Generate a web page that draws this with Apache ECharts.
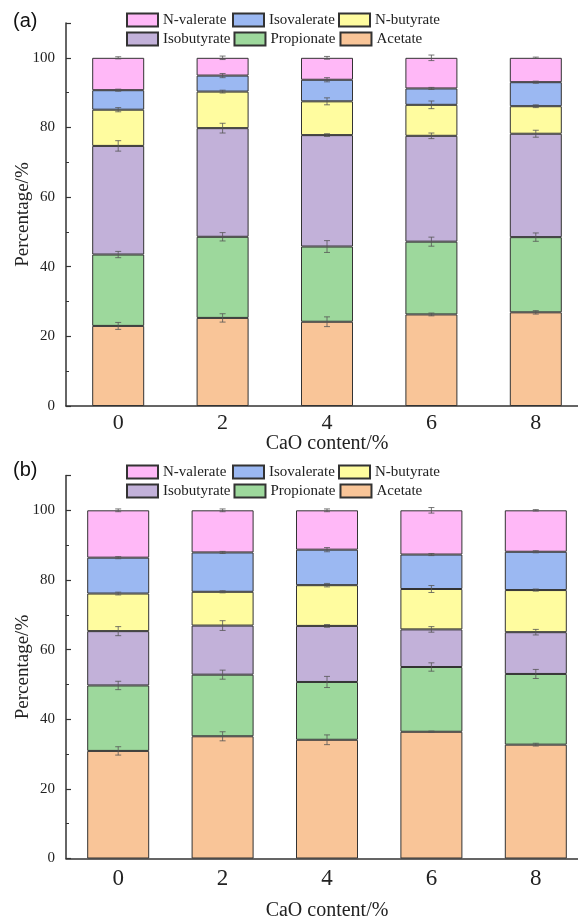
<!DOCTYPE html>
<html>
<head>
<meta charset="UTF-8">
<title>VFA composition</title>
<script src="https://cdn.jsdelivr.net/npm/echarts@6/dist/echarts.min.js"></script>
<style>html,body{margin:0;padding:0;background:#fff;}</style>
</head>
<body>
<div id="main" style="width:578px;height:921px"></div>
<script type="text/javascript">
// x categories (CaO content, %)
var categories = ['0', '2', '4', '6', '8'];
var names = ['Acetate', 'Propionate', 'Isobutyrate', 'N-butyrate', 'Isovalerate', 'N-valerate'];
var legendOrder = ['N-valerate', 'Isovalerate', 'N-butyrate', 'Isobutyrate', 'Propionate', 'Acetate'];
var colors = ['#f9c598', '#9dd89c', '#c2b1d9', '#fffc9f', '#9bb8f2', '#ffb8f7'];

// panel (a) segment shares, %
var acetateA     = [23.0, 25.3, 24.2, 26.3, 26.9];
var propionateA  = [20.5, 23.3, 21.6, 20.9, 21.6];
var isobutyrateA = [31.2, 31.2, 32.0, 30.4, 29.7];
var nbutyrateA   = [10.4, 10.5, 9.7, 8.9, 7.9];
var isovalerateA = [5.6, 4.6, 6.2, 4.7, 6.9];
var nvalerateA   = [9.3, 5.1, 6.3, 8.8, 7.0];
// panel (a) error (+/-)
var errAcetateA     = [1.0, 1.2, 1.4, 0.4, 0.5];
var errPropionateA  = [0.9, 1.2, 1.7, 1.3, 1.2];
var errIsobutyrateA = [1.5, 1.4, 0.4, 0.8, 1.0];
var errNbutyrateA   = [0.6, 0.4, 1.0, 1.1, 0.4];
var errIsovalerateA = [0.3, 0.6, 0.6, 0.3, 0.3];
var errNvalerateA   = [0.3, 0.5, 0.4, 0.8, 0.2];

// panel (b) segment shares, %
var acetateB     = [30.9, 35.1, 34.1, 36.4, 32.7];
var propionateB  = [18.8, 17.7, 16.6, 18.6, 20.3];
var isobutyrateB = [15.6, 14.1, 16.1, 10.8, 12.0];
var nbutyrateB   = [10.8, 9.7, 11.7, 11.6, 12.1];
var isovalerateB = [10.3, 11.3, 10.2, 9.9, 11.0];
var nvalerateB   = [13.6, 12.1, 11.3, 12.7, 11.9];
// panel (b) error (+/-)
var errAcetateB     = [1.2, 1.3, 1.4, 0.2, 0.4];
var errPropionateB  = [1.2, 1.3, 1.6, 1.2, 1.3];
var errIsobutyrateB = [1.3, 1.4, 0.4, 0.8, 0.8];
var errNbutyrateB   = [0.4, 0.3, 0.5, 1.0, 0.3];
var errIsovalerateB = [0.3, 0.3, 0.6, 0.3, 0.3];
var errNvalerateB   = [0.4, 0.4, 0.4, 0.8, 0.2];

var serif = 'Liberation Serif';
var sans = 'Liberation Sans';
var ink = '#222';

function renderErr(params, api) {
    var x = api.value(0), y = api.value(1), e = api.value(2);
    var hi = api.coord([x, y + e]);
    var lo = api.coord([x, y - e]);
    var w = 3;
    var st = {stroke: '#555', lineWidth: 0.8};
    return {
        type: 'group',
        children: [
            {type: 'line', shape: {x1: hi[0], y1: hi[1], x2: lo[0], y2: lo[1]}, style: st},
            {type: 'line', shape: {x1: hi[0] - w, y1: hi[1], x2: hi[0] + w, y2: hi[1]}, style: st},
            {type: 'line', shape: {x1: lo[0] - w, y1: lo[1], x2: lo[0] + w, y2: lo[1]}, style: st}
        ]
    };
}

function panelSeries(p, segs, errs, barWidth) {
    var out = [];
    var tops = categories.map(function () { return 0; });
    var errData = [];
    for (var s = 0; s < names.length; s++) {
        out.push({
            name: names[s],
            type: 'bar',
            stack: 'p' + p,
            xAxisIndex: p * 2,
            yAxisIndex: p,
            barWidth: barWidth,
            itemStyle: {color: colors[s], borderColor: '#333', borderWidth: 1},
            emphasis: {disabled: true},
            data: segs[s]
        });
        for (var i = 0; i < categories.length; i++) {
            tops[i] += segs[s][i];
            errData.push([i, tops[i], errs[s][i]]);
        }
    }
    out.push({
        type: 'custom',
        xAxisIndex: p * 2,
        yAxisIndex: p,
        renderItem: renderErr,
        encode: {x: 0, y: 1},
        z: 5,
        silent: true,
        data: errData
    });
    return out;
}

function xAxes(p, labelSize, labelMargin, nameGap) {
    return [{
        type: 'category',
        gridIndex: p,
        position: 'bottom',
        data: categories,
        name: 'CaO content/%',
        nameLocation: 'middle',
        nameGap: nameGap,
        nameMoveOverlap: false,
        nameTextStyle: {fontFamily: serif, fontSize: 20, color: ink},
        axisLine: {lineStyle: {color: '#333', width: 1.5}},
        axisTick: {alignWithLabel: true, inside: true, length: 5, lineStyle: {color: '#333', width: 1.2}},
        axisLabel: {fontFamily: serif, fontSize: labelSize, color: ink, margin: labelMargin},
        splitLine: {show: false}
    }, {
        type: 'category',
        gridIndex: p,
        position: 'bottom',
        data: categories,
        axisLine: {show: false},
        axisTick: {inside: true, length: 3, lineStyle: {color: '#333', width: 1}},
        axisLabel: {show: false},
        splitLine: {show: false}
    }];
}

function yAxis(p) {
    return {
        type: 'value',
        gridIndex: p,
        min: 0,
        max: 110,
        interval: 20,
        name: 'Percentage/%',
        nameLocation: 'middle',
        nameGap: 33,
        nameMoveOverlap: false,
        nameTextStyle: {fontFamily: serif, fontSize: 19, color: ink},
        axisLine: {show: true, lineStyle: {color: '#333', width: 1.5}},
        axisTick: {show: true, inside: true, length: 5, lineStyle: {color: '#333', width: 1.2}},
        minorTick: {show: true, splitNumber: 2, length: 3, lineStyle: {color: '#333', width: 1}},
        axisLabel: {fontFamily: serif, fontSize: 15, color: ink, margin: 11, showMaxLabel: false},
        splitLine: {show: false}
    };
}

function legend(top) {
    return {
        left: 126,
        top: top,
        width: 320,
        padding: 0,
        itemWidth: 31,
        itemHeight: 13,
        itemGap: 3,
        itemTextGap: 4,
        icon: 'rect',
        selectedMode: false,
        data: legendOrder,
        textStyle: {fontFamily: serif, fontSize: 15, color: ink, width: 66, lineHeight: 16}
    };
}

var segsA = [acetateA, propionateA, isobutyrateA, nbutyrateA, isovalerateA, nvalerateA];
var errsA = [errAcetateA, errPropionateA, errIsobutyrateA, errNbutyrateA, errIsovalerateA, errNvalerateA];
var segsB = [acetateB, propionateB, isobutyrateB, nbutyrateB, isovalerateB, nvalerateB];
var errsB = [errAcetateB, errPropionateB, errIsobutyrateB, errNbutyrateB, errIsovalerateB, errNvalerateB];

var option = {
    backgroundColor: '#fff',
    animation: false,
    title: [
        {text: '(a)', left: 13, top: 11, padding: 0, textStyle: {fontFamily: sans, fontSize: 20, fontWeight: 'normal', color: '#111'}},
        {text: '(b)', left: 13, top: 460, padding: 0, textStyle: {fontFamily: sans, fontSize: 20, fontWeight: 'normal', color: '#111'}}
    ],
    legend: [legend(12), legend(464)],
    grid: [
        {left: 66, top: 23, width: 522, height: 383, outerBoundsMode: 'none'},
        {left: 66, top: 475.5, width: 522, height: 383, outerBoundsMode: 'none'}
    ],
    xAxis: xAxes(0, 22, 6, 28).concat(xAxes(1, 23, 9, 42)),
    yAxis: [yAxis(0), yAxis(1)],
    series: panelSeries(0, segsA, errsA, 52).concat(panelSeries(1, segsB, errsB, 62))
};

var myChart = echarts.init(document.getElementById('main'));
myChart.setOption(option);
</script>
</body>
</html>
